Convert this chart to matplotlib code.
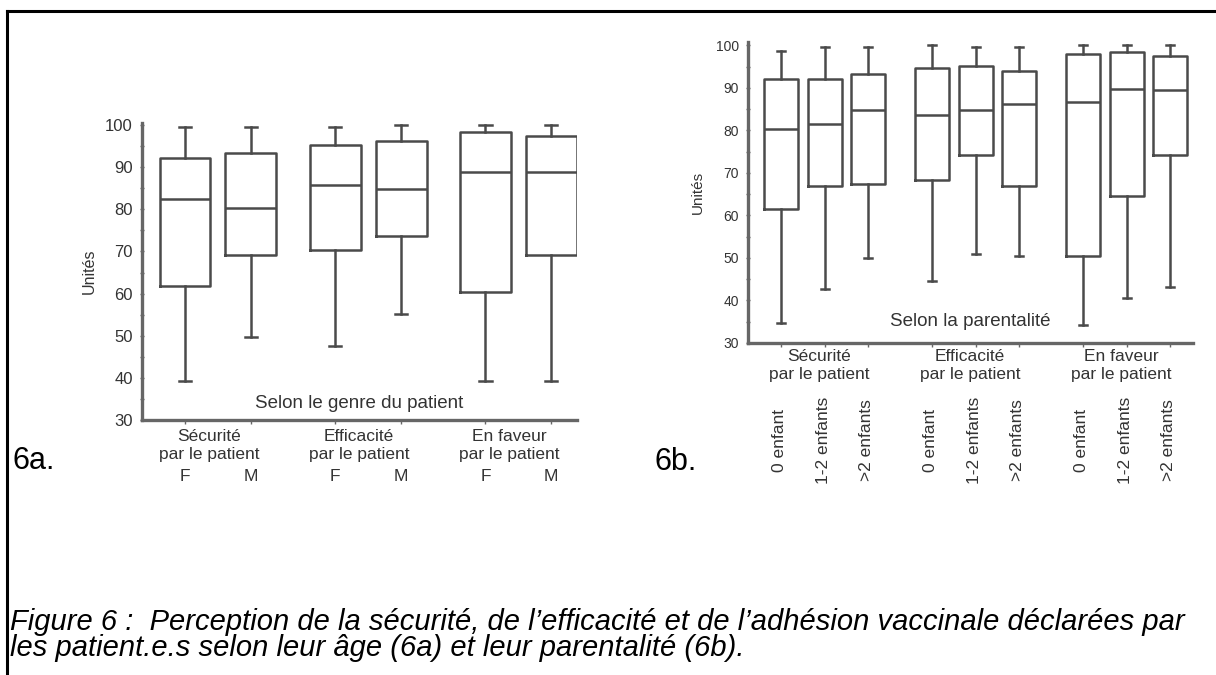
import matplotlib
matplotlib.use("Agg")
from matplotlib import pyplot as plt
from matplotlib.lines import Line2D

plt.rcParams['font.family'] = ['Liberation Sans', 'DejaVu Sans']

# ---- data ----
# 6a : by gender of the patient
groups = ["Sécurité\npar le patient", "Efficacité\npar le patient", "En faveur\npar le patient"]
genders = ["F", "M"]
a_whishi = [99.5, 99.5, 99.5, 100, 100, 100]
a_q3 = [92.1, 93.3, 95.3, 96.2, 98.4, 97.4]
a_med = [82.5, 80.3, 85.8, 84.8, 88.9, 88.9]
a_q1 = [61.8, 69.2, 70.4, 73.7, 60.4, 69.2]
a_whislo = [39.2, 49.8, 47.6, 55.2, 39.2, 39.2]

# 6b : by parenthood
kids = ["0 enfant", "1-2 enfants", ">2 enfants"]
b_whishi = [98.8, 99.6, 99.6, 100, 99.6, 99.6, 100, 100, 100]
b_q3 = [92.0, 92.0, 93.2, 94.7, 95.1, 94.0, 98.0, 98.4, 97.4]
b_med = [80.4, 81.5, 84.9, 83.7, 84.9, 86.3, 86.7, 89.8, 89.4]
b_q1 = [61.5, 66.9, 67.4, 68.3, 74.2, 66.9, 50.5, 64.6, 74.2]
b_whislo = [34.8, 42.8, 49.9, 44.7, 50.9, 50.5, 34.3, 40.7, 43.1]

yticks = [30, 40, 50, 60, 70, 80, 90, 100]

LINE = '#4a4a4a'
TXT = '#333333'
W, H = 1216, 675


def make_stats(lo, q1, med, q3, hi):
    return [dict(whislo=a, q1=b, med=c, q3=d, whishi=e, fliers=[])
            for a, b, c, d, e in zip(lo, q1, med, q3, hi)]


def draw_boxes(ax, stats, positions, width, capw):
    props = dict(color=LINE, linewidth=1.8)
    ax.bxp(stats, positions=positions, widths=width, showfliers=False,
           boxprops=props, whiskerprops=props, capprops=props,
           medianprops=props, capwidths=capw, manage_ticks=False)


def style_axis(ax, ylim_top, tick_size):
    for s in ['top', 'right']:
        ax.spines[s].set_visible(False)
    for s in ['left', 'bottom']:
        ax.spines[s].set_color('#666666')
        ax.spines[s].set_linewidth(2.4)
    ax.set_ylim(30, ylim_top)
    ax.set_yticks(yticks)
    ax.set_yticks([35, 45, 55, 65, 75, 85, 95], minor=True)
    ax.tick_params(axis='y', which='both', length=3, width=1, color='#666666',
                   labelsize=tick_size, labelcolor=TXT, direction='inout', pad=5)
    ax.tick_params(axis='x', length=3, width=1, color='#666666', labelbottom=False)


fig = plt.figure(figsize=(W / 100, H / 100), dpi=100)


def px_axes(x0, y0, x1, y1):
    # axes rectangle from pixel corners (top-left origin)
    return fig.add_axes([x0 / W, 1 - y1 / H, (x1 - x0) / W, (y1 - y0) / H])


# ---------- 6a ----------
ax1 = px_axes(142, 123, 577, 420)
pos_a = [g + off for g in range(3) for off in (-0.219, 0.219)]
draw_boxes(ax1, make_stats(a_whislo, a_q1, a_med, a_q3, a_whishi), pos_a, 0.339, 0.08)
ax1.set_xlim(-0.505, 2.39)
style_axis(ax1, 100.5, 12)
ax1.set_xticks(pos_a)
ax1.set_ylabel("Unités", fontsize=11.5, color=TXT, labelpad=6)
ax1.text(0.5, 0.057, "Selon le genre du patient", transform=ax1.transAxes,
         ha='center', va='center', fontsize=13.5, color=TXT)
for g, name in enumerate(groups):
    ax1.annotate(name, xy=(g - 0.06, 0), xycoords=('data', 'axes fraction'),
                 xytext=(0, -18.5), textcoords='offset points',
                 ha='center', va='center', fontsize=12.5, color=TXT, linespacing=1.25)
for p, lab in zip(pos_a, genders * 3):
    ax1.annotate(lab, xy=(p, 0), xycoords=('data', 'axes fraction'),
                 xytext=(0, -41), textcoords='offset points',
                 ha='center', va='center', fontsize=12.5, color=TXT)

# ---------- 6b ----------
ax2 = px_axes(748, 42, 1193, 343)
pos_b = [g + off for g in range(3) for off in (-0.29, 0.0, 0.285)]
draw_boxes(ax2, make_stats(b_whislo, b_q1, b_med, b_q3, b_whishi), pos_b, 0.225, 0.055)
ax2.set_xlim(-0.51, 2.437)
style_axis(ax2, 100.8, 10)
ax2.set_xticks(pos_b)
ax2.set_ylabel("Unités", fontsize=11, color=TXT, labelpad=8)
ax2.text(0.5, 0.073, "Selon la parentalité", transform=ax2.transAxes,
         ha='center', va='center', fontsize=13.5, color=TXT)
for g, name in enumerate(groups):
    ax2.annotate(name, xy=(g - 0.04, 0), xycoords=('data', 'axes fraction'),
                 xytext=(0, -16.5), textcoords='offset points',
                 ha='center', va='center', fontsize=12.5, color=TXT, linespacing=1.25)
for p, lab in zip(pos_b, kids * 3):
    ax2.annotate(lab, xy=(p - 0.01, 0), xycoords=('data', 'axes fraction'),
                 xytext=(0, -70), textcoords='offset points', rotation=90,
                 ha='center', va='center', fontsize=12.5, color=TXT)

# panel tags + caption
fig.text(12 / W, 1 - 461 / H, "6a.", fontsize=22, va='center', ha='left')
fig.text(655 / W, 1 - 462 / H, "6b.", fontsize=22, va='center', ha='left')
fig.text(10 / W, 1 - 622 / H,
         "Figure 6 :  Perception de la sécurité, de l’efficacité et de l’adhésion vaccinale déclarées par",
         fontsize=21, style='italic', va='center', ha='left')
fig.text(10 / W, 1 - 648 / H,
         "les patient.e.s selon leur âge (6a) et leur parentalité (6b).",
         fontsize=21, style='italic', va='center', ha='left')

# page frame (top and left edges)
fig.add_artist(Line2D([7 / W, 1], [1 - 11 / H, 1 - 11 / H], color='black', lw=2.2,
                      transform=fig.transFigure))
fig.add_artist(Line2D([7 / W, 7 / W], [1 - 11 / H, 0], color='black', lw=2.2,
                      transform=fig.transFigure))

fig.savefig("out.png", dpi=100)
